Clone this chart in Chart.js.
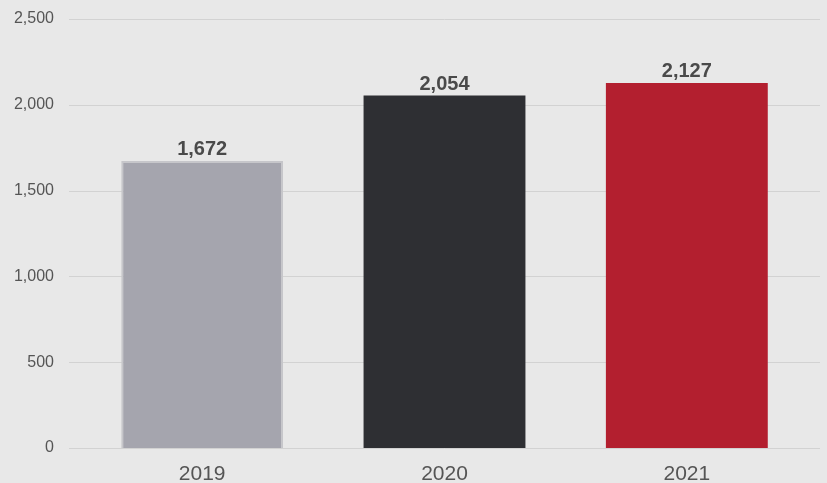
<!DOCTYPE html>
<html>
<head>
<meta charset="utf-8">
<script src="https://cdn.jsdelivr.net/npm/chart.js@4"></script>
<style>
  html, body { margin: 0; padding: 0; background: #e8e8e8; }
  #wrap { width: 827px; height: 483px; }
</style>
</head>
<body>
<div id="wrap"><canvas id="grafico"></canvas></div>
<script>
const years = ['2019', '2020', '2021'];
const values = [1672, 2054, 2127];
const barColors = ['#a5a5ae', '#2e2f33', '#b31f2f'];
const borderColors = ['#c6c6ca', '#2e2f33', '#b31f2f'];
const borderWidths = [2, 0, 0];

// gridlines that reach past the category range, like the original
const lineasFondo = {
    id: 'lineasFondo',
    beforeDatasetsDraw(chart) {
        const y = chart.scales.y;
        const ctx = chart.ctx;
        ctx.save();
        ctx.strokeStyle = '#d2d2d2';
        ctx.lineWidth = 1;
        y.ticks.forEach(t => {
            const py = Math.round(y.getPixelForValue(t.value)) + 0.5;
            ctx.beginPath();
            ctx.moveTo(69, py);
            ctx.lineTo(820, py);
            ctx.stroke();
        });
        ctx.restore();
    }
};

const etiquetasValor = {
    id: 'etiquetasValor',
    afterDatasetsDraw(chart) {
        const ctx = chart.ctx;
        const meta = chart.getDatasetMeta(0);
        ctx.save();
        ctx.font = 'bold 20px "Liberation Sans", Arial, sans-serif';
        ctx.fillStyle = '#4a4a4a';
        ctx.textAlign = 'center';
        ctx.textBaseline = 'alphabetic';
        meta.data.forEach((bar, i) => {
            ctx.fillText(values[i].toLocaleString('en-US'), bar.x, bar.y - 6);
        });
        ctx.restore();
    }
};

new Chart(document.getElementById('grafico'), {
    type: 'bar',
    data: {
        labels: years,
        datasets: [{
            data: values,
            backgroundColor: barColors,
            borderColor: borderColors,
            borderWidth: borderWidths,
            barPercentage: 0.668,
            categoryPercentage: 1
        }]
    },
    options: {
        responsive: true,
        maintainAspectRatio: false,
        animation: false,
        layout: { padding: { left: 0, right: 19, top: 19, bottom: 0 } },
        scales: {
            x: {
                grid: { display: false },
                border: { display: false },
                ticks: {
                    color: '#555555',
                    font: { family: '"Liberation Sans", Arial, sans-serif', size: 21 },
                    padding: 6
                },
                afterFit: s => { s.height = 35; s.paddingLeft = 0; s.paddingRight = 0; }
            },
            y: {
                min: 0,
                max: 2500,
                grid: { display: false, drawTicks: false },
                border: { display: false },
                ticks: {
                    stepSize: 500,
                    color: '#555555',
                    font: { family: '"Liberation Sans", Arial, sans-serif', size: 16 },
                    padding: 27,
                    callback: v => v.toLocaleString('en-US')
                },
                afterFit: s => { s.width = 81; s.paddingTop = 0; s.paddingBottom = 0; }
            }
        },
        plugins: {
            legend: { display: false },
            tooltip: { enabled: false }
        }
    },
    plugins: [lineasFondo, etiquetasValor]
});
</script>
</body>
</html>
